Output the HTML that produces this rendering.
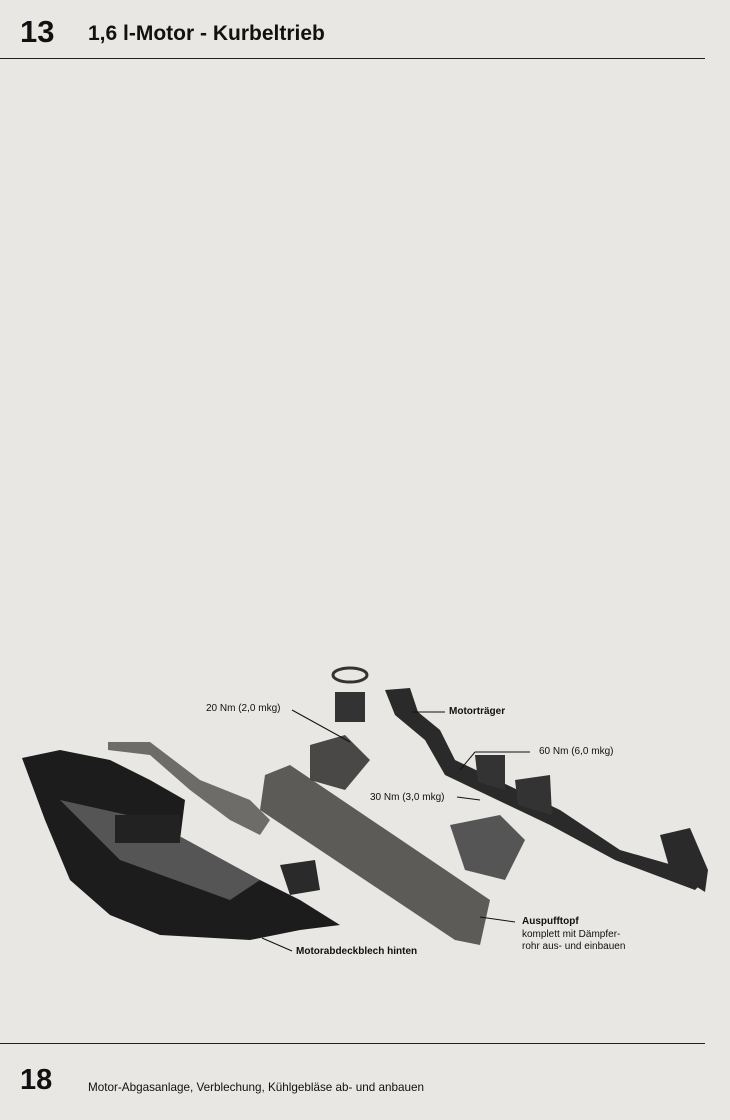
<!DOCTYPE html>
<html><head><meta charset="utf-8"><style>
body{margin:0;background:#e9e7e3;}
.p{position:relative;width:730px;height:1120px;overflow:hidden;background:#e9e7e3;font-family:"Liberation Sans",sans-serif;color:#111}
.t{position:absolute;white-space:nowrap}
</style></head><body><div class="p">
<div class="t" style="left:20px;top:14px;font-size:31px;font-weight:bold">13</div>
<div class="t" style="left:88px;top:22px;font-size:21px;font-weight:bold">1,6 l-Motor - Kurbeltrieb</div>
<div style="position:absolute;left:0;top:58px;width:705px;height:1px;background:#222"></div>
<div style="position:absolute;left:0;top:1043px;width:705px;height:1px;background:#222"></div>
<div class="t" style="left:20px;top:1064px;font-size:29px;font-weight:bold">18</div>
<div class="t" style="left:88px;top:1081px;font-size:11.7px">Motor-Abgasanlage, Verblechung, Kühlgebläse ab- und anbauen</div>
<svg width="730" height="1120" style="position:absolute;left:0;top:0">
<!-- cover plate -->
<path d="M22,758 L60,750 L110,760 L150,780 L185,800 L180,840 L260,880 L300,900 L340,925 L300,930 L250,940 L160,935 L110,915 L70,880 L45,820 Z" fill="#1c1c1c"/>
<path d="M60,800 L150,820 L260,880 L230,900 L120,860 Z" fill="#555"/>
<rect x="115" y="815" width="65" height="28" fill="#222"/>
<!-- pipe -->
<path d="M108,742 L150,742 L200,780 L250,800 L270,820 L260,835 L230,820 L190,790 L150,755 L108,750 Z" fill="#6e6c69"/>
<!-- muffler -->
<path d="M265,775 L290,765 L490,900 L480,945 L455,940 L260,810 Z" fill="#5d5b58"/>
<path d="M310,745 L345,735 L370,760 L345,790 L310,780 Z" fill="#4a4846"/>
<rect x="335" y="692" width="30" height="30" fill="#333"/>
<ellipse cx="350" cy="675" rx="17" ry="7" fill="none" stroke="#333" stroke-width="3"/>
<path d="M450,825 L500,815 L525,840 L505,880 L465,870 Z" fill="#555"/>
<path d="M280,865 L315,860 L320,890 L290,895 Z" fill="#2a2a2a"/>
<!-- frame -->
<path d="M385,690 L410,688 L418,712 L440,730 L455,760 L560,810 L620,850 L690,870 L705,880 L695,890 L615,860 L550,825 L445,775 L425,740 L395,715 Z" fill="#2a2a2a"/>
<path d="M475,755 L505,755 L505,790 L478,782 Z" fill="#333"/>
<path d="M515,780 L550,775 L552,815 L518,805 Z" fill="#333"/>
<path d="M660,835 L690,828 L708,870 L705,892 L670,870 Z" fill="#2a2a2a"/>
<!-- leader lines -->
<g stroke="#111" stroke-width="1" fill="none">
<line x1="292" y1="710" x2="350" y2="742"/>
<line x1="412" y1="712" x2="445" y2="712"/>
<line x1="460" y1="770" x2="475" y2="752"/><line x1="475" y1="752" x2="530" y2="752"/>
<line x1="457" y1="797" x2="480" y2="800"/>
<line x1="480" y1="917" x2="515" y2="922"/>
<line x1="262" y1="938" x2="292" y2="951"/>
</g>
</svg>
<div class="t" style="left:206px;top:703px;font-size:10px">20 Nm (2,0 mkg)</div>
<div class="t" style="left:449px;top:706px;font-size:10px;font-weight:bold">Motorträger</div>
<div class="t" style="left:539px;top:746px;font-size:10px">60 Nm (6,0 mkg)</div>
<div class="t" style="left:370px;top:792px;font-size:10px">30 Nm (3,0 mkg)</div>
<div class="t" style="left:522px;top:916px;font-size:10px;font-weight:bold">Auspufftopf</div>
<div class="t" style="left:522px;top:929px;font-size:10px;line-height:12px">komplett mit Dämpfer-<br>rohr aus- und einbauen</div>
<div class="t" style="left:296px;top:946px;font-size:10px;font-weight:bold">Motorabdeckblech hinten</div>
</div></body></html>
